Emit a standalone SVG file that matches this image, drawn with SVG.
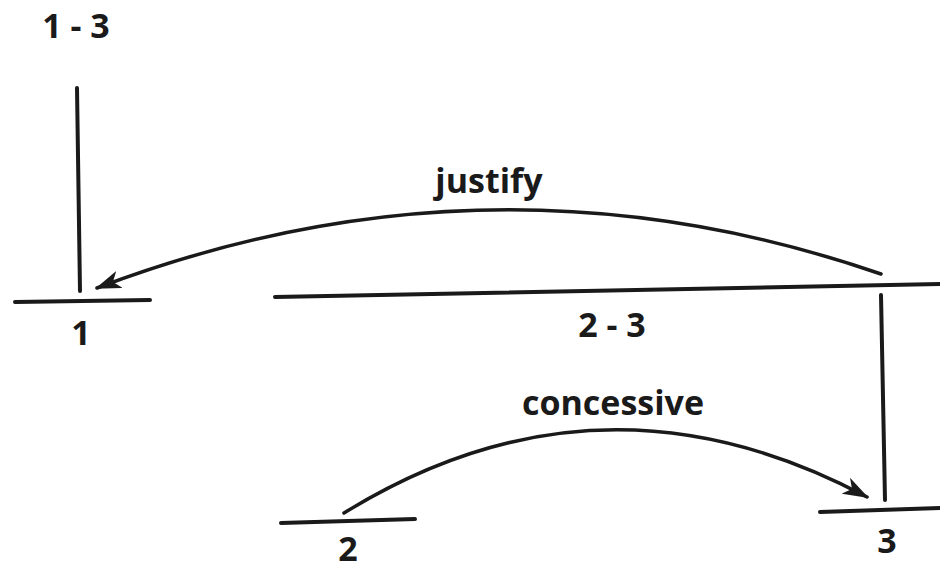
<svg xmlns="http://www.w3.org/2000/svg" width="940" height="570" viewBox="0 0 940 570">
<style>
  .seg { stroke: #1a1a1a; stroke-width: 4; stroke-linecap: round; fill: none; }
  .arc { stroke: #1a1a1a; stroke-width: 3.5; stroke-linecap: round; fill: none; }
  .lbl { font-family: "Open Sans", "Liberation Sans", sans-serif; font-weight: 700; font-size: 34px; fill: #1a1a1a; text-anchor: middle; }
</style>
<defs>
  <marker id="arrow" viewBox="0 0 26 18" refX="24" refY="9" markerWidth="26" markerHeight="18" markerUnits="userSpaceOnUse" orient="auto">
    <path d="M0,0 L26,9 L0,18 L7,9 Z" fill="#1a1a1a"/>
  </marker>
</defs>
<rect width="940" height="570" fill="#ffffff"/>
<g id="node-1-3">
  <text class="lbl" x="76" y="38" xml:space="preserve">1 - 3</text>
  <line class="seg" x1="77" y1="88" x2="80" y2="291"/>
</g>
<g id="node-1">
  <line class="seg" x1="15" y1="302" x2="150" y2="300"/>
  <text class="lbl" x="81" y="345">1</text>
</g>
<g id="node-2-3">
  <line class="seg" x1="275" y1="297" x2="940" y2="284"/>
  <text class="lbl" x="612" y="337">2 - 3</text>
  <line class="seg" x1="881" y1="295" x2="885" y2="500"/>
</g>
<g id="node-2">
  <line class="seg" x1="281" y1="523" x2="415" y2="519"/>
  <text class="lbl" x="348" y="561">2</text>
</g>
<g id="node-3">
  <line class="seg" x1="820" y1="512" x2="940" y2="508"/>
  <text class="lbl" x="887" y="553">3</text>
</g>
<g id="connectors">
  <path class="arc" d="M881,274 Q490,139 97,288" marker-end="url(#arrow)"/>
  <text class="lbl" x="489" y="193">justify</text>
  <path class="arc" d="M344,513 Q600,355 867,497" marker-end="url(#arrow)"/>
  <text class="lbl" x="613" y="415">concessive</text>
</g>
</svg>
